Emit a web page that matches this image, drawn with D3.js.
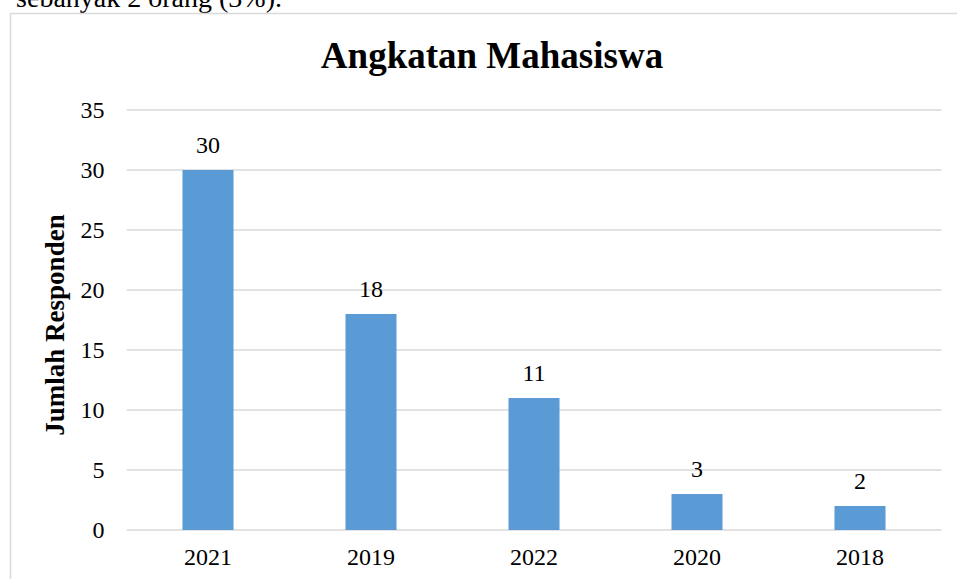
<!DOCTYPE html>
<html>
<head>
<meta charset="utf-8">
<script src="https://cdn.jsdelivr.net/npm/d3@7"></script>
<style>
  body { margin: 0; background: #fff; }
  svg { display: block; font-family: "Liberation Serif", "Times New Roman", serif; }
</style>
</head>
<body>
<script>
  var w = 957; //svg width
  var h = 579; //svg height

  //data
  var years = ["2021", "2019", "2022", "2020", "2018"];
  var responden = [30, 18, 11, 3, 2];
  var yTicks = [0, 5, 10, 15, 20, 25, 30, 35];

  var plot = { left: 126.5, right: 941.5, top: 110, bottom: 530 };

  var svg = d3.select("body")
      .append("svg")
      .attr("width", w)
      .attr("height", h);

  //cut off text of the page above
  svg.append("text")
      .attr("x", 282)
      .attr("y", 7)
      .attr("text-anchor", "end")
      .attr("font-size", 28)
      .attr("fill", "#000")
      .text("sebanyak 2 orang (3%).");

  //chart frame
  svg.append("rect")
      .attr("x", 10.5)
      .attr("y", 13.5)
      .attr("width", 960)
      .attr("height", 600)
      .attr("fill", "none")
      .attr("stroke", "#d9d9d9")
      .attr("stroke-width", 1.5);

  //SCALES
  var x = d3.scaleBand()
      .domain(years)
      .range([plot.left, plot.right])
      .paddingInner(0.687)
      .paddingOuter(0.3435);

  var y = d3.scaleLinear()
      .domain([0, 35])
      .range([plot.bottom, plot.top]);

  //gridlines
  svg.selectAll("line.grid")
      .data(yTicks)
      .enter()
      .append("line")
      .attr("class", "grid")
      .attr("x1", plot.left)
      .attr("x2", plot.right)
      .attr("y1", function(d) { return y(d); })
      .attr("y2", function(d) { return y(d); })
      .attr("stroke", "#d9d9d9")
      .attr("stroke-width", 1.5);

  //y axis labels
  var yAxis = d3.axisLeft(y).tickValues(yTicks).tickSize(0).tickPadding(22);
  var gy = svg.append("g")
      .attr("transform", "translate(" + plot.left + ",0)")
      .call(yAxis);
  gy.select(".domain").remove();
  gy.selectAll("text")
      .attr("font-family", "Liberation Serif, Times New Roman, serif")
      .attr("font-size", 24)
      .attr("fill", "#000");

  //x axis labels
  var xAxis = d3.axisBottom(x).tickSize(0).tickPadding(18);
  var gx = svg.append("g")
      .attr("transform", "translate(0," + plot.bottom + ")")
      .call(xAxis);
  gx.select(".domain").remove();
  gx.selectAll("text")
      .attr("font-family", "Liberation Serif, Times New Roman, serif")
      .attr("font-size", 24)
      .attr("fill", "#000");

  //BARS
  svg.selectAll("rect.bar")
      .data(responden)
      .enter()
      .append("rect")
      .attr("class", "bar")
      .attr("x", function(d, i) { return x(years[i]); })
      .attr("y", function(d) { return y(d); })
      .attr("width", x.bandwidth())
      .attr("height", function(d) { return y(0) - y(d); })
      .attr("fill", "#5b9bd5");

  //LABELS
  svg.selectAll("text.barLabel")
      .data(responden)
      .enter()
      .append("text")
      .attr("class", "barLabel")
      .attr("x", function(d, i) { return x(years[i]) + x.bandwidth() / 2; })
      .attr("y", function(d) { return y(d) - 17; })
      .attr("text-anchor", "middle")
      .attr("font-size", 24)
      .attr("fill", "#000")
      .text(function(d) { return d; });

  //title
  svg.append("text")
      .attr("x", 492)
      .attr("y", 68)
      .attr("text-anchor", "middle")
      .attr("font-size", 37)
      .attr("font-weight", "bold")
      .text("Angkatan Mahasiswa");

  //y axis title
  svg.append("text")
      .attr("transform", "translate(64,325) rotate(-90)")
      .attr("text-anchor", "middle")
      .attr("font-size", 27)
      .attr("font-weight", "bold")
      .text("Jumlah Responden");
</script>
</body>
</html>
